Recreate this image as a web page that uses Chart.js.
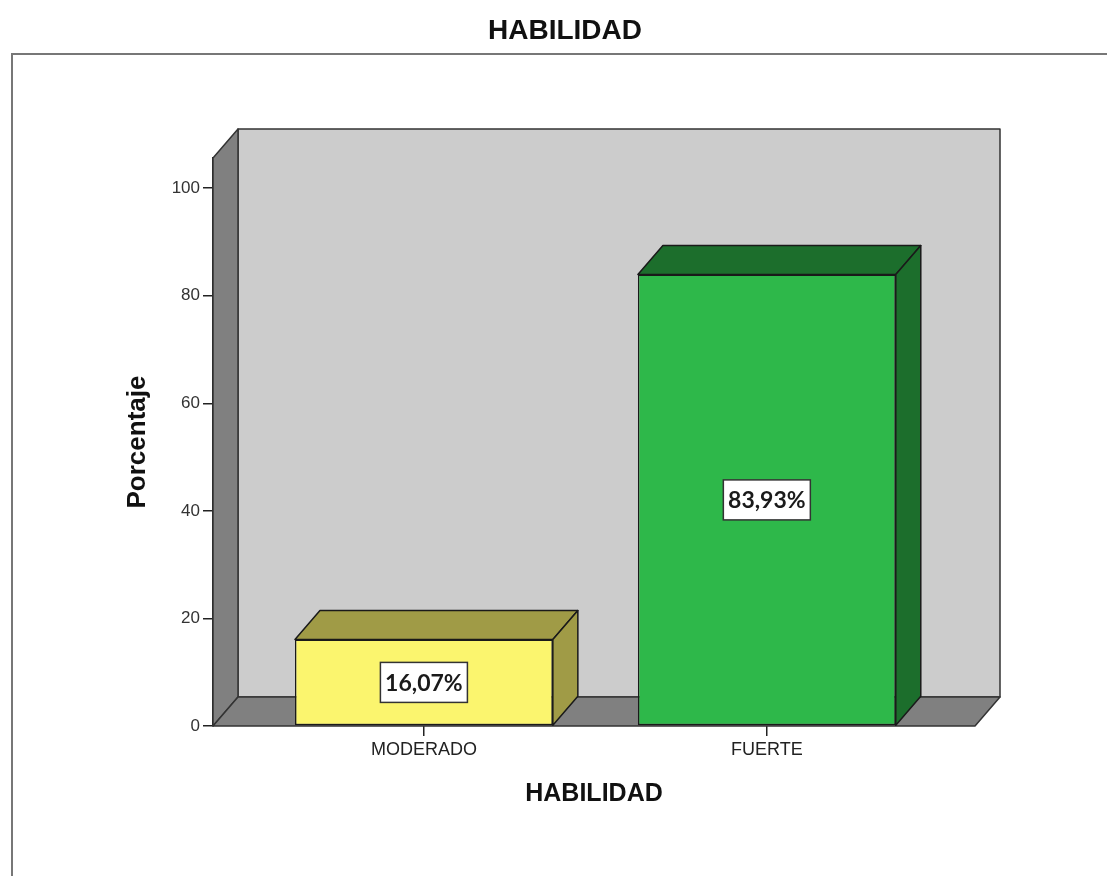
<!DOCTYPE html>
<html>
<head>
<meta charset="utf-8">
<script src="https://cdn.jsdelivr.net/npm/chart.js@4/dist/chart.umd.min.js"></script>
<style>
  html, body { margin: 0; padding: 0; background: #fff; }
  #wrap { width: 1107px; height: 876px; }
</style>
</head>
<body>
<div id="wrap"><canvas id="habChart"></canvas></div>
<script>
// data
const chartTitle = 'HABILIDAD';
const categories = ['MODERADO', 'FUERTE'];
const percentValues = [16.07, 83.93];
const valueLabels = ['16,07%', '83,93%'];
const yTicks = [0, 20, 40, 60, 80, 100];

const frontColors = ['#fbf56e', '#2eb84a'];
const shadeColors = ['#a09b46', '#1c6e2c'];
const DEPTH_X = 25, DEPTH_Y = -29;  // 3d offset of the box

// frame + main title (SPSS style)
const framePlugin = {
  id: 'frame',
  beforeDraw(chart) {
    const ctx = chart.ctx;
    ctx.save();
    ctx.fillStyle = '#fff';
    ctx.fillRect(0, 0, chart.width, chart.height);
    ctx.strokeStyle = '#777';
    ctx.lineWidth = 2;
    ctx.beginPath();
    ctx.moveTo(12, chart.height + 5);
    ctx.lineTo(12, 54);
    ctx.lineTo(chart.width + 5, 54);
    ctx.stroke();
    ctx.fillStyle = '#111';
    ctx.font = 'bold 28px "Liberation Sans", Arial, sans-serif';
    ctx.textAlign = 'center';
    ctx.textBaseline = 'middle';
    ctx.fillText(chartTitle, 565, 31);
    ctx.restore();
  }
};

function poly(ctx, pts, fill) {
  ctx.beginPath();
  ctx.moveTo(pts[0][0], pts[0][1]);
  for (let i = 1; i < pts.length; i++) ctx.lineTo(pts[i][0], pts[i][1]);
  ctx.closePath();
  ctx.fillStyle = fill;
  ctx.fill();
  ctx.stroke();
}

// walls, floor and the hidden faces of the bars
const boxPlugin = {
  id: 'box3d',
  beforeDatasetsDraw(chart) {
    const ctx = chart.ctx;
    const a = chart.chartArea;
    const dx = DEPTH_X, dy = DEPTH_Y;
    ctx.save();
    ctx.strokeStyle = '#333';
    ctx.lineWidth = 1.5;
    ctx.lineJoin = 'round';
    // back wall
    poly(ctx, [[a.left + dx, a.top + dy], [a.right + dx, a.top + dy],
               [a.right + dx, a.bottom + dy], [a.left + dx, a.bottom + dy]], '#cccccc');
    // left wall
    poly(ctx, [[a.left, a.top], [a.left + dx, a.top + dy],
               [a.left + dx, a.bottom + dy], [a.left, a.bottom]], '#808080');
    // floor
    poly(ctx, [[a.left, a.bottom], [a.left + dx, a.bottom + dy],
               [a.right + dx, a.bottom + dy], [a.right, a.bottom]], '#808080');

    // top and right faces of each bar
    const meta = chart.getDatasetMeta(0);
    ctx.strokeStyle = '#1a1a1a';
    meta.data.forEach((bar, i) => {
      const p = bar.getProps(['x', 'y', 'base', 'width'], true);
      const l = p.x - p.width / 2, r = p.x + p.width / 2;
      poly(ctx, [[l, p.y], [l + dx, p.y + dy], [r + dx, p.y + dy], [r, p.y]], shadeColors[i]);
      poly(ctx, [[r, p.y], [r + dx, p.y + dy], [r + dx, p.base + dy], [r, p.base]], shadeColors[i]);
    });
    ctx.restore();
  },
  afterDatasetsDraw(chart) {
    const ctx = chart.ctx;
    const meta = chart.getDatasetMeta(0);
    ctx.save();
    ctx.font = 'bold 23px Lato, "Noto Sans", sans-serif';
    ctx.textAlign = 'center';
    ctx.textBaseline = 'middle';
    meta.data.forEach((bar, i) => {
      const p = bar.getProps(['x', 'y', 'base'], true);
      const cy = (p.y + p.base) / 2;
      const w = 87, h = 40;
      ctx.fillStyle = '#fff';
      ctx.fillRect(p.x - w / 2, cy - h / 2, w, h);
      ctx.strokeStyle = '#333';
      ctx.lineWidth = 1.5;
      ctx.strokeRect(p.x - w / 2, cy - h / 2, w, h);
      ctx.fillStyle = '#1a1a1a';
      ctx.fillText(valueLabels[i], p.x, cy + 1);
    });
    ctx.restore();
  }
};

const ctx = document.getElementById('habChart');
new Chart(ctx, {
  type: 'bar',
  data: {
    datasets: [{
      label: 'Porcentaje',
      data: percentValues.map((v, i) => ({ x: i, y: v })),
      backgroundColor: frontColors,
      borderColor: '#1a1a1a',
      borderWidth: 1.5,
      borderSkipped: false,
      categoryPercentage: 0.752,
      barPercentage: 1,
      clip: false
    }]
  },
  options: {
    responsive: true,
    maintainAspectRatio: false,
    animation: false,
    layout: { padding: { left: 110, right: 132, top: 158, bottom: 0 } },
    plugins: {
      legend: { display: false },
      tooltip: { enabled: false },
      title: { display: false }
    },
    scales: {
      x: {
        type: 'linear',
        offset: false,
        min: -0.615,
        max: 1.607,
        afterBuildTicks: (s) => { s.ticks = categories.map((c, i) => ({ value: i })); },
        afterFit: (s) => { s.height = 150; },
        ticks: {
          callback: (v) => categories[v] ?? '',
          color: '#222',
          font: { family: '"Liberation Sans", Arial, sans-serif', size: 18 },
          padding: 3,
          maxRotation: 0,
          autoSkip: false
        },
        grid: { offset: false, drawOnChartArea: false, drawTicks: true, tickLength: 10, color: '#222', lineWidth: 1.5 },
        border: { display: false },
        title: {
          display: true,
          text: 'HABILIDAD',
          color: '#111',
          font: { family: '"Liberation Sans", Arial, sans-serif', size: 25, weight: 'bold' },
          padding: { top: 0, bottom: 67 }
        }
      },
      y: {
        min: 0,
        max: 105.6,
        afterBuildTicks: (s) => { s.ticks = yTicks.map(v => ({ value: v })); },
        afterFit: (s) => { s.width = 103; },
        ticks: {
          color: '#333',
          font: { family: '"Liberation Sans", Arial, sans-serif', size: 17 },
          padding: 3
        },
        grid: { drawOnChartArea: false, drawTicks: true, tickLength: 10, color: '#222', lineWidth: 1.5 },
        border: { display: true, color: '#222', width: 1.5 },
        title: {
          display: true,
          text: 'Porcentaje',
          color: '#111',
          font: { family: '"Liberation Sans", Arial, sans-serif', size: 26, weight: 'bold' },
          padding: { top: 12, bottom: 0 }
        }
      }
    }
  },
  plugins: [framePlugin, boxPlugin]
});
</script>
</body>
</html>
